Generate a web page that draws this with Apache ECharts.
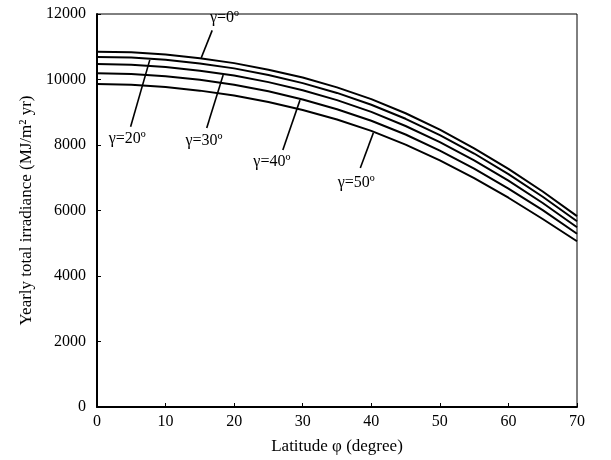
<!DOCTYPE html>
<html lang="en">
<head>
    <meta charset="UTF-8">
    <title>Yearly total irradiance vs latitude</title>
    <style type="text/css">
        *{
            margin: 0;
            padding: 0;
        }
        #main{
            width: 611px;
            height: 460px;
            position: absolute;
            background: #fff;
        }
    </style>
</head>
<body>
    <div id="main"></div>
    <script src="https://cdn.jsdelivr.net/npm/echarts@6/dist/echarts.min.js"></script>
    <script type="text/javascript">
        var latitude = [0, 5, 10, 15, 20, 25, 30, 35, 40, 45, 50, 55, 60, 65, 70];
        var gamma0  = [10850, 10830, 10760, 10650, 10500, 10300, 10060, 9760, 9400, 8970, 8470, 7900, 7270, 6580, 5830];
        var gamma20 = [10690, 10670, 10600, 10490, 10340, 10140, 9890, 9590, 9230, 8800, 8300, 7740, 7110, 6420, 5670];
        var gamma30 = [10470, 10450, 10380, 10270, 10120, 9920, 9670, 9370, 9010, 8580, 8090, 7530, 6910, 6230, 5490];
        var gamma40 = [10190, 10170, 10100, 9990, 9840, 9640, 9390, 9090, 8740, 8320, 7830, 7280, 6670, 6010, 5290];
        var gamma50 = [9860, 9840, 9770, 9660, 9510, 9310, 9070, 8780, 8430, 8010, 7530, 6990, 6390, 5740, 5060];
        var seriesNames = ['γ=0º', 'γ=20º', 'γ=30º', 'γ=40º', 'γ=50º'];
        var seriesValues = [gamma0, gamma20, gamma30, gamma40, gamma50];

        // leader lines: from point on curve to the label end, then where the text sits
        var notes = [
            {text: 'γ=0º',  from: [15.2, 10660], to: [16.8, 11500], at: [18.6, 11880]},
            {text: 'γ=20º', from: [7.7, 10600],  to: [4.9, 8560],   at: [4.4, 8200]},
            {text: 'γ=30º', from: [18.4, 10140], to: [16.0, 8520],  at: [15.6, 8120]},
            {text: 'γ=40º', from: [29.6, 9370],  to: [27.1, 7850],  at: [25.5, 7500]},
            {text: 'γ=50º', from: [40.3, 8370],  to: [38.4, 7300],  at: [37.8, 6860]}
        ];

        var font = '"Liberation Serif", "DejaVu Serif", serif';
        var myChart = echarts.init(document.getElementById('main'));

        var series = seriesValues.map(function (vals, i) {
            return {
                name: seriesNames[i],
                type: 'line',
                symbol: 'none',
                lineStyle: {color: '#000', width: 2},
                data: latitude.map(function (x, j) { return [x, vals[j]]; })
            };
        });

        var option = {
            animation: false,
            backgroundColor: '#fff',
            grid: {
                left: 97,
                right: 34,
                top: 14,
                bottom: 53,
                show: true,
                borderColor: '#000',
                borderWidth: 1
            },
            xAxis: {
                type: 'value',
                min: 0,
                max: 70,
                interval: 10,
                name: 'Latitude φ (degree)',
                nameLocation: 'middle',
                nameGap: 31,
                nameTextStyle: {fontFamily: font, fontSize: 17, color: '#000'},
                axisLine: {lineStyle: {color: '#000', width: 2}},
                axisTick: {inside: true, length: 4, lineStyle: {color: '#000'}},
                axisLabel: {fontFamily: font, fontSize: 16, color: '#000', margin: 7},
                splitLine: {show: false}
            },
            yAxis: {
                type: 'value',
                min: 0,
                max: 12000,
                interval: 2000,
                name: 'Yearly total irradiance (MJ/m² yr)',
                nameLocation: 'middle',
                nameGap: 62,
                nameTextStyle: {fontFamily: font, fontSize: 17, color: '#000'},
                axisLine: {lineStyle: {color: '#000', width: 2}},
                axisTick: {inside: true, length: 4, lineStyle: {color: '#000'}},
                axisLabel: {
                    fontFamily: font, fontSize: 16, color: '#000', margin: 11,
                    formatter: function (v) { return String(v); }
                },
                splitLine: {show: false}
            },
            series: series
        };

        myChart.setOption(option);

        // annotation leader lines and labels placed through the chart's own scales
        var graphics = [];
        notes.forEach(function (n) {
            var p1 = myChart.convertToPixel({gridIndex: 0}, n.from);
            var p2 = myChart.convertToPixel({gridIndex: 0}, n.to);
            var pt = myChart.convertToPixel({gridIndex: 0}, n.at);
            graphics.push({
                type: 'line',
                shape: {x1: p1[0], y1: p1[1], x2: p2[0], y2: p2[1]},
                style: {stroke: '#000', lineWidth: 1.6}
            });
            graphics.push({
                type: 'text',
                x: pt[0],
                y: pt[1],
                style: {
                    text: n.text,
                    font: '16px ' + font,
                    fill: '#000',
                    align: 'center',
                    verticalAlign: 'middle'
                }
            });
        });
        myChart.setOption({graphic: graphics});
    </script>
</body>
</html>
